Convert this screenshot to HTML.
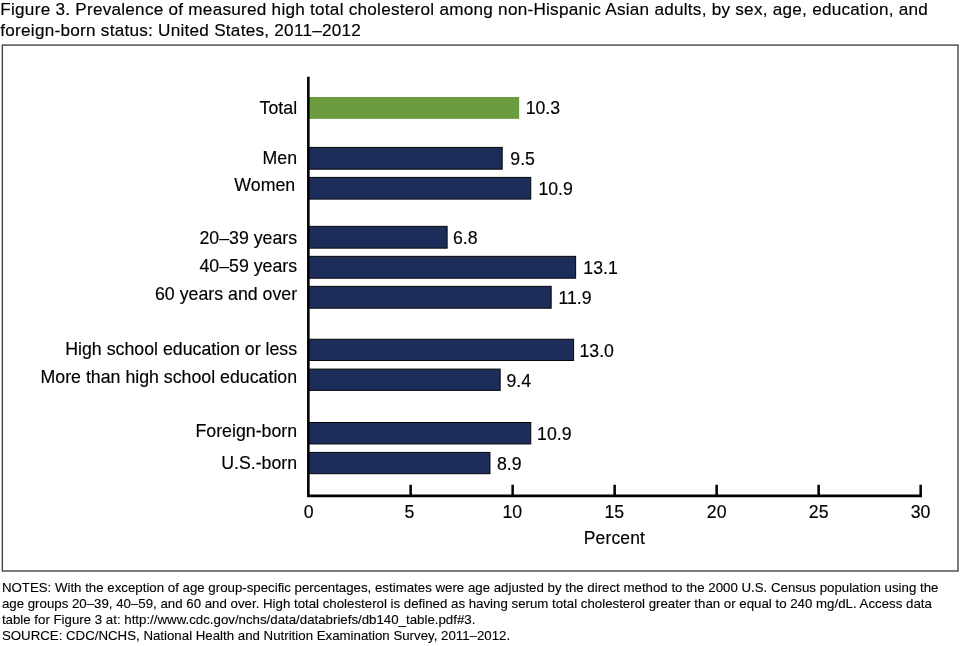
<!DOCTYPE html>
<html lang="en">
<head>
<meta charset="utf-8">
<title>Figure 3. Prevalence of measured high total cholesterol among non-Hispanic Asian adults</title>
<style>
html,body{margin:0;padding:0;background:#fff;}
body{width:960px;height:646px;overflow:hidden;position:relative;font-family:"Liberation Sans",Arial,Helvetica,sans-serif;color:#000;}
svg{position:absolute;left:0;top:0;display:block;}
svg text{font-family:"Liberation Sans",Arial,Helvetica,sans-serif;fill:#000;stroke:#000;stroke-width:0.16px;}
.t{font-size:17.15px;}
.lab{font-size:17.76px;text-anchor:end;}
.val{font-size:17.7px;}
.tick{font-size:17.7px;text-anchor:middle;}
.note{font-size:13.27px;stroke-width:0.12px;}
</style>
</head>
<body>
<svg width="960" height="646" viewBox="0 0 960 646">
<rect x="0" y="0" width="960" height="646" fill="#ffffff"/>
<text class="t" x="0.3" y="15.1" textLength="927.6" lengthAdjust="spacing">Figure 3. Prevalence of measured high total cholesterol among non-Hispanic Asian adults, by sex, age, education, and</text>
<text class="t" x="0.3" y="36.0" textLength="360.6" lengthAdjust="spacing">foreign-born status: United States, 2011–2012</text>
<rect x="2.35" y="45.08" width="955.65" height="525.92" fill="none" stroke="#454545" stroke-width="1.4"/>

<rect x="308.5" y="97.0" width="210.67" height="21.85" fill="#6b9c3f"/>
<text class="lab" x="297.1" y="113.80">Total</text>
<text class="val" x="525.7" y="113.6">10.3</text>
<rect x="308.5" y="147.40" width="193.70" height="21.80" fill="#1c2d5a" stroke="#050608" stroke-width="1"/>
<text class="lab" x="297.1" y="163.80">Men</text>
<text class="val" x="510.3" y="165.4">9.5</text>
<rect x="308.5" y="177.40" width="222.26" height="21.70" fill="#1c2d5a" stroke="#050608" stroke-width="1"/>
<text class="lab" x="295.2" y="191.00">Women</text>
<text class="val" x="538.4" y="194.7">10.9</text>
<rect x="308.5" y="226.35" width="138.62" height="21.80" fill="#1c2d5a" stroke="#050608" stroke-width="1"/>
<text class="lab" x="297.1" y="243.60">20–39 years</text>
<text class="val" x="452.9" y="244.1">6.8</text>
<rect x="308.5" y="256.35" width="267.14" height="21.85" fill="#1c2d5a" stroke="#050608" stroke-width="1"/>
<text class="lab" x="297.1" y="272.20">40–59 years</text>
<text class="val" x="583.3" y="273.7">13.1</text>
<rect x="308.5" y="286.35" width="242.66" height="21.85" fill="#1c2d5a" stroke="#050608" stroke-width="1"/>
<text class="lab" x="297.1" y="300.05">60 years and over</text>
<text class="val" x="558.4" y="303.5">11.9</text>
<rect x="308.5" y="339.25" width="265.10" height="21.25" fill="#1c2d5a" stroke="#050608" stroke-width="1"/>
<text class="lab" x="297.1" y="354.70">High school education or less</text>
<text class="val" x="579.5" y="357.1">13.0</text>
<rect x="308.5" y="369.10" width="191.66" height="21.30" fill="#1c2d5a" stroke="#050608" stroke-width="1"/>
<text class="lab" x="297.1" y="382.70">More than high school education</text>
<text class="val" x="506.5" y="387.0">9.4</text>
<rect x="308.5" y="422.50" width="222.26" height="21.45" fill="#1c2d5a" stroke="#050608" stroke-width="1"/>
<text class="lab" x="297.1" y="437.10">Foreign-born</text>
<text class="val" x="537.1" y="439.8">10.9</text>
<rect x="308.5" y="452.40" width="181.46" height="21.30" fill="#1c2d5a" stroke="#050608" stroke-width="1"/>
<text class="lab" x="297.1" y="468.80">U.S.-born</text>
<text class="val" x="496.9" y="470.0">8.9</text>
<path d="M308.35 76.7 V495.85 H922.0" fill="none" stroke="#000" stroke-width="2.6" stroke-linejoin="miter"/>
<path d="M410.65 484.7 V495.5M512.65 484.7 V495.5M614.65 484.7 V495.5M716.65 484.7 V495.5M818.65 484.7 V495.5M920.65 484.7 V495.5" fill="none" stroke="#000" stroke-width="2.5"/>
<text class="tick" x="308.55" y="518.2">0</text>
<text class="tick" x="409.35" y="518.2">5</text>
<text class="tick" x="512.25" y="518.2">10</text>
<text class="tick" x="614.25" y="518.2">15</text>
<text class="tick" x="716.65" y="518.2">20</text>
<text class="tick" x="818.65" y="518.2">25</text>
<text class="tick" x="920.50" y="518.2">30</text>
<text class="tick" style="font-size:17.45px" x="614.3" y="544" textLength="61.1" lengthAdjust="spacing">Percent</text>
<text class="note" x="1.9" y="591.7">NOTES: With the exception of age group-specific percentages, estimates were age adjusted by the direct method to the 2000 U.S. Census population using the</text>
<text class="note" x="1.9" y="607.7">age groups 20–39, 40–59, and 60 and over. High total cholesterol is defined as having serum total cholesterol greater than or equal to 240 mg/dL. Access data</text>
<text class="note" x="1.9" y="623.8">table for Figure 3 at: http://www.cdc.gov/nchs/data/databriefs/db140_table.pdf#3.</text>
<text class="note" x="1.9" y="639.8">SOURCE: CDC/NCHS, National Health and Nutrition Examination Survey, 2011–2012.</text>
</svg>
</body>
</html>
